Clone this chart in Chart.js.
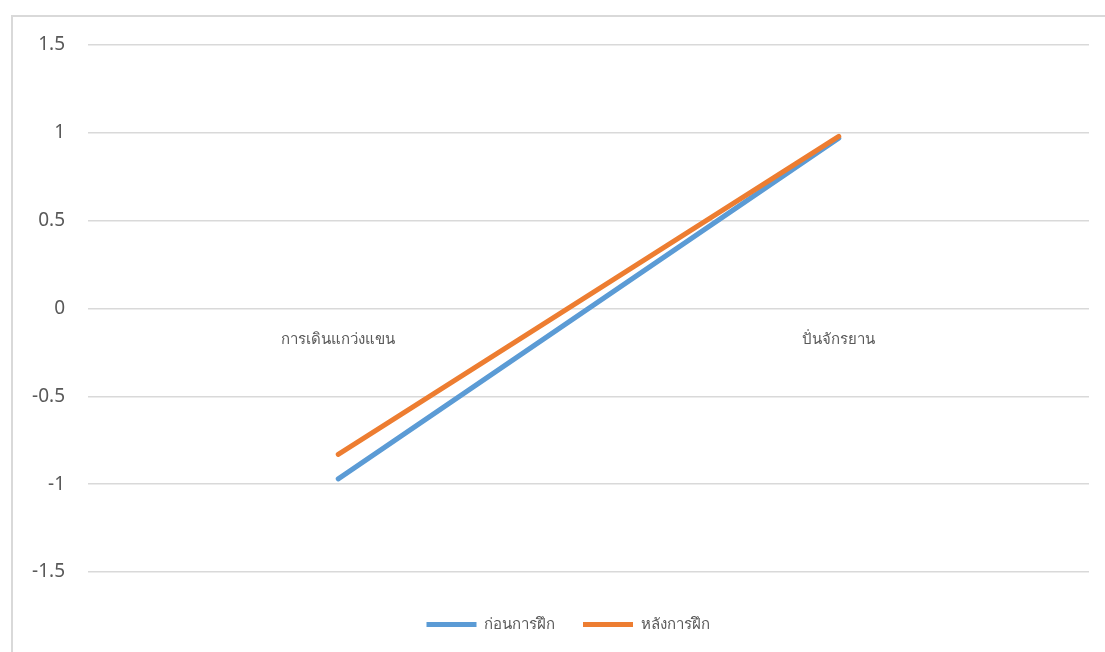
<!DOCTYPE html>
<html lang="th">
<head>
<meta charset="UTF-8">
<title>ก่อนและหลังการฝึก</title>
<script src="https://cdn.jsdelivr.net/npm/chart.js@4/dist/chart.umd.min.js"></script>
<style>
  html, body { margin: 0; padding: 0; background: #fff; overflow: hidden; }
  #frame { position: absolute; left: 11px; top: 15px; width: 1200px; height: 800px; border: 2px solid #d9d9d9; }
  #wrap { position: absolute; left: 0; top: 0; width: 1105px; height: 652px; }
</style>
</head>
<body>
<div id="frame"></div>
<div id="wrap"><canvas id="chart"></canvas></div>
<script>
  const categories = ['การเดินแกว่งแขน', 'ปั่นจักรยาน'];
  const seriesNames = ['ก่อนการฝึก', 'หลังการฝึก'];
  const beforeValues = [-0.97, 0.97];
  const afterValues = [-0.83, 0.98];
  const yTicks = [-1.5, -1, -0.5, 0, 0.5, 1, 1.5];

  const textColor = '#595959';
  const fontFamily = "'Noto Sans', 'DejaVu Sans', sans-serif";

  // legend is centred on the frame, not on the plot
  const legendShift = {
    id: 'legendShift',
    beforeDraw(chart) { chart.legend.left = 47; }
  };

  new Chart(document.getElementById('chart'), {
    type: 'line',
    data: {
      labels: categories,
      datasets: [
        {
          label: seriesNames[0],
          data: beforeValues,
          borderColor: '#5B9BD5',
          backgroundColor: '#5B9BD5',
          borderWidth: 5,
          borderCapStyle: 'round',
          pointRadius: 0,
          order: 1
        },
        {
          label: seriesNames[1],
          data: afterValues,
          borderColor: '#ED7D31',
          backgroundColor: '#ED7D31',
          borderWidth: 5,
          borderCapStyle: 'round',
          pointRadius: 0,
          order: 0
        }
      ]
    },
    options: {
      responsive: true,
      maintainAspectRatio: false,
      animation: false,
      layout: { padding: { left: 0, top: 45, right: 16, bottom: 10 } },
      scales: {
        x: {
          position: { y: 0 },
          offset: true,
          grid: { display: false, drawTicks: false },
          border: { display: false },
          ticks: { color: textColor, font: { family: fontFamily, size: 15 }, padding: 22, maxRotation: 0 }
        },
        // empty strip between plot and legend
        gap: {
          type: 'linear',
          axis: 'x',
          position: 'bottom',
          grid: { display: false, drawTicks: false },
          border: { display: false },
          ticks: { display: false },
          afterFit: (scale) => { scale.height = 17; }
        },
        y: {
          min: -1.5,
          max: 1.5,
          afterBuildTicks: (scale) => { scale.ticks = yTicks.map(v => ({ value: v })); },
          afterFit: (scale) => { scale.width = 88; },
          grid: { color: '#d9d9d9', lineWidth: 1.5, drawTicks: false },
          border: { display: false },
          ticks: {
            color: textColor,
            font: { family: fontFamily, size: 19 },
            padding: 23,
            callback: (v) => String(v)
          }
        }
      },
      plugins: {
        legend: {
          position: 'bottom',
          labels: {
            color: textColor,
            font: { family: fontFamily, size: 15 },
            usePointStyle: true,
            pointStyle: 'line',
            pointStyleWidth: 50,
            boxHeight: 5,
            padding: 28,
            sort: (a, b) => a.datasetIndex - b.datasetIndex
          }
        },
        tooltip: { enabled: false }
      }
    },
    plugins: [legendShift]
  });
</script>
</body>
</html>
